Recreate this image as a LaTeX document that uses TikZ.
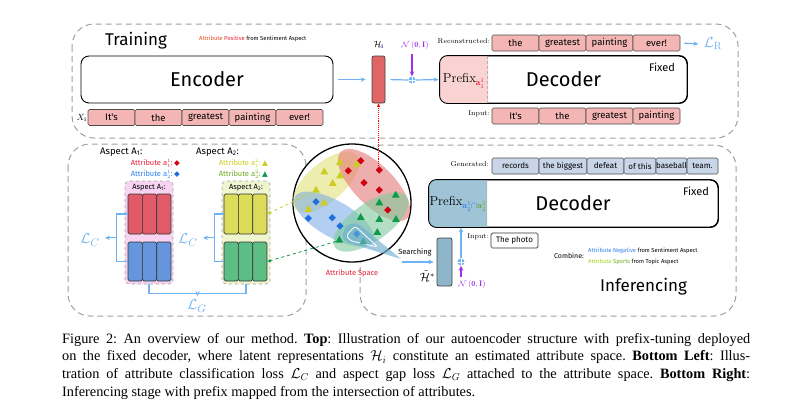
\documentclass[tikz,border=0pt]{standalone}
\usepackage{fontspec}
\usetikzlibrary{arrows.meta,calc,shapes.geometric}
\newfontfamily\cf{Fira Sans}
\newfontfamily\dv{DejaVu Sans}
\newfontfamily\capf{Liberation Serif}
\newcommand\myfs[1]{\fontsize{#1}{#1}\selectfont}
\definecolor{tokpink}{HTML}{F4B5B5}
\definecolor{hred}{HTML}{E06666}
\definecolor{prefpink}{HTML}{F9D2D2}
\definecolor{lblue}{HTML}{6FB3F2}
\definecolor{purp}{HTML}{9B30E6}
\definecolor{gtokc}{HTML}{C9D5E8}
\definecolor{prefblue}{HTML}{9EC4D6}
\definecolor{hstar}{HTML}{8EB6C8}
\definecolor{redbar}{HTML}{E05A6A}
\definecolor{bluebar}{HTML}{6495DD}
\definecolor{yelbar}{HTML}{DCDC5A}
\definecolor{grnbar}{HTML}{5DBE85}
\definecolor{pinkbg}{HTML}{F9D4F2}
\definecolor{yelbg}{HTML}{EFF6CF}
\definecolor{attrred}{HTML}{E8203A}
\definecolor{attrorange}{HTML}{E84A20}
\definecolor{attrblue}{HTML}{2F80EE}
\definecolor{attryel}{HTML}{CCCC1E}
\definecolor{attrgrn}{HTML}{6DAA1E}
\definecolor{dred}{HTML}{D00010}
\definecolor{dblue}{HTML}{1E70DD}
\definecolor{dyel}{HTML}{CCCC22}
\definecolor{dgrn}{HTML}{0E9A48}
\definecolor{ellY}{HTML}{E2E27A}
\definecolor{ellR}{HTML}{E57878}
\definecolor{ellB}{HTML}{7FAEE6}
\definecolor{ellG}{HTML}{7FCB9C}
\definecolor{conec}{HTML}{6FAFD0}
\newcommand\dmd[3]{\fill[#3] (#1,#2) +(0,-3.6) -- +(3.6,0) -- +(0,3.6) -- +(-3.6,0) -- cycle;}
\newcommand\trg[3]{\fill[#3] (#1,#2) +(0,-4.2) -- +(3.9,2.6) -- +(-3.9,2.6) -- cycle;}
\begin{document}
\begin{tikzpicture}[x=1pt,y=-1pt,
  bigbox/.style={draw=black, line width=0.9pt, rounded corners=8pt, fill=white, inner sep=0},
  tok/.style={draw=black!70, line width=0.6pt, fill=tokpink, rounded corners=1.5pt, minimum height=16pt, minimum width=47pt, inner sep=0, font=\cf\myfs{9.5}},
  gtok/.style={tok, fill=gtokc, font=\cf\myfs{8}},
  lab/.style={font=\myfs{7}, anchor=east, inner sep=0},
  bline/.style={draw=lblue, line width=1.2pt},
  barrow/.style={draw=lblue, line width=1.2pt, -{Stealth[length=5pt,width=4.5pt]}},
  parrow/.style={draw=purp, line width=1.2pt, -{Stealth[length=5pt,width=4.5pt]}},
  dashbox/.style={draw=gray!75, dash pattern=on 6pt off 4pt, line width=1pt, rounded corners=22pt},
  bar/.style={draw=black!80, line width=0.7pt, rounded corners=1.5pt, minimum width=14.3pt, inner sep=0},
  oplus/.style={circle, fill=lblue, minimum size=7pt, inner sep=0},
  lossl/.style={text=lblue, font=\myfs{15}},
  hbox/.style={draw=black!75, line width=0.7pt, rounded corners=2pt, inner sep=0},
]
\useasboundingbox (0,0) rectangle (808,413);

% ---------- dashed frames ----------
\draw[dashbox] (72,24) rectangle (738,138);
\draw[dashbox] (68,144) rectangle (306,316);
\draw[dashbox] (360,145) rectangle (736,316);

% ---------- TOP: training ----------
\node[font=\cf\myfs{17}] (train) at (136,41) {Training};
\node[anchor=west, inner sep=0, font=\cf\myfs{5.8}] (posl) at (199,39) {\textcolor{attrorange}{Attribute} \textcolor{attrred}{Positive} from Sentiment Aspect};

\node[bigbox, minimum width=252pt, minimum height=47pt, font=\cf\myfs{20}] (enc) at (207,79.5) {Encoder};
\node[tok] (x1) at (111.5,117.5) {It's};
\node[tok] (x2) at (158.5,117.5) {the};
\node[tok] (x3) at (205.5,117.5) {greatest};
\node[tok] (x4) at (252.5,117.5) {painting};
\node[tok] (x5) at (299.5,117.5) {ever!};
\node[anchor=east, inner sep=1pt, font=\myfs{9}] (xl) at (x1.west) {$X_{\mathbf i}$};

\node[hbox, fill=hred, minimum width=13pt, minimum height=47pt] (h1) at (378.5,79.5) {};
\node[font=\myfs{9}] (h1l) at (378.5,45) {$\mathcal{H}_{\textcolor{blue!60!black}{\mathbf i}}$};
\draw[barrow, shorten <=5pt, shorten >=6pt] (enc.east) -- (h1.west);

\node[oplus] (op1) at (412,80) {};
\draw[white, line width=0.6pt] (op1.north) -- (op1.south) (op1.west) -- (op1.east);
\draw[bline, shorten <=5pt] (h1.east) -- (op1.west);
\node[text=purp, font=\myfs{8}] (n1) at (415,45) {$\mathcal{N}\,(\mathbf{0},\mathbf{I})$};
\coordinate (n1a) at (412,54);
\draw[parrow] (n1a) -- (op1.north);

\node[bigbox, minimum width=247pt, minimum height=47pt] (dec1) at (563.5,79.5) {};
\draw[barrow, shorten >=1pt] (op1.east) -- (dec1.west);
\begin{scope}
  \clip (430,50) rectangle (488,110);
  \fill[prefpink, rounded corners=8pt] (dec1.north west) rectangle (dec1.south east);
\end{scope}
\draw[gray!60, densely dashed, line width=0.6pt] ($(dec1.north west)+(48,0)$) -- ($(dec1.south west)+(48,0)$);
\draw[line width=0.9pt, rounded corners=8pt] (dec1.north west) rectangle (dec1.south east);
\node[font=\cf\myfs{20}] (dec1t) at (dec1.center) {Decoder};
\node[font=\myfs{13}, inner sep=0] (pf1) at (464,81) {Prefix$_{\textcolor{attrred}{\mathbf{a}^1_1}}$};
\node[font=\cf\myfs{11}] (fx1) at (662,67) {Fixed};

\node[tok] (r1) at (515.5,43) {the};
\node[tok] (r2) at (562.5,43) {greatest};
\node[tok] (r3) at (609.5,43) {painting};
\node[tok] (r4) at (656.5,43) {ever!};
\node[lab] (recl) at (490,41) {Reconstructed:};
\node[lossl] (lr) at (713,44) {$\mathcal{L}_{\mathrm R}$};
\draw[barrow, shorten <=4pt, shorten >=2pt] (r4.east) -- (lr.west);

\node[tok] (i1) at (515.5,116) {It's};
\node[tok] (i2) at (562.5,116) {the};
\node[tok] (i3) at (609.5,116) {greatest};
\node[tok] (i4) at (656.5,116) {painting};
\node[lab] (inl) at (490,113.5) {Input:};

% ---------- BOTTOM LEFT ----------
\node[anchor=west, inner sep=0, font=\cf\myfs{9.5}] (asp1) at (100,152) {Aspect A\textsubscript{1}:};
\node[anchor=east, inner sep=0, font=\cf\myfs{7.5}, text=attrred] (a11) at (180,163) {Attribute a$^1_1$:\,\textcolor{dred}{\dv ◆}};
\node[anchor=east, inner sep=0, font=\cf\myfs{7.5}, text=attrblue] (a21) at (180,174) {Attribute a$^1_2$:\,\textcolor{dblue}{\dv ◆}};
\node[anchor=west, inner sep=0, font=\cf\myfs{9.5}] (asp2) at (196,152) {Aspect A\textsubscript{2}:};
\node[anchor=east, inner sep=0, font=\cf\myfs{7.5}, text=attryel] (a12) at (268,163) {Attribute a$^2_1$:\,\textcolor{dyel}{\dv ▲}};
\node[anchor=east, inner sep=0, font=\cf\myfs{7.5}, text=attrgrn] (a22) at (268,174) {Attribute a$^2_2$:\,\textcolor{dgrn}{\dv ▲}};

\node[draw=gray!70, dashed, line width=0.7pt, fill=pinkbg, rounded corners=4pt, minimum width=48pt, minimum height=103pt, inner sep=0] (pk) at (149,232.5) {};
\node[draw=gray!70, dashed, line width=0.7pt, fill=yelbg, rounded corners=4pt, minimum width=48pt, minimum height=103pt, inner sep=0] (yk) at (246,232.5) {};
\node[font=\cf\myfs{7.5}, inner sep=0] (pkl) at (149,187.5) {Aspect A\textsubscript{1}:};
\node[font=\cf\myfs{7.5}, inner sep=0] (ykl) at (246,187.5) {Aspect A\textsubscript{2}:};

\foreach \i/\x in {1/135.2,2/149.5,3/163.8}{
  \node[bar, fill=redbar, minimum height=40pt] (rb\i) at (\x,214) {};
  \node[bar, fill=bluebar, minimum height=39pt] (bb\i) at (\x,261.5) {};
}
\foreach \i/\x in {1/231.2,2/245.5,3/259.8}{
  \node[bar, fill=yelbar, minimum height=40pt] (yb\i) at (\x,214) {};
  \node[bar, fill=grnbar, minimum height=39pt] (gb\i) at (\x,261.5) {};
}

\node[lossl] (lc1) at (90,240) {$\mathcal{L}_C$};
\node[lossl] (lc2) at (188,240) {$\mathcal{L}_C$};
\node[lossl] (lg) at (197,306) {$\mathcal{L}_G$};
\draw[bline] (rb1.west) -- ++(-11.3,0) |- (bb1.west);
\coordinate (lcm1) at ($(rb1.west)!.5!(bb1.west)+(-11.3,0)$);
\draw[barrow, shorten >=2pt] (lcm1) -- (lcm1 -| lc1.east);
\draw[bline] (yb1.west) -- ++(-9,0) |- (gb1.west);
\coordinate (lcm2) at ($(yb1.west)!.5!(gb1.west)+(-9,0)$);
\draw[barrow, shorten >=2pt] (lcm2) -- (lcm2 -| lc2.east);
\draw[bline] (pk.south) -- ++(0,9) -| (yk.south);
\coordinate (lgm) at ($(pk.south)!.5!(yk.south)+(0,9)$);
\draw[barrow] (lgm) -- (lgm |- lg.north);

% ---------- attribute space ----------
\node[circle, draw=black, line width=1.3pt, fill=white, minimum size=118pt, inner sep=0] (sp) at (352,203) {};
\fill[ellY, fill opacity=.6, rotate around={41:(326,182)}] (326,182) ellipse (41pt and 19pt);
\fill[ellB, fill opacity=.6, rotate around={-30:(334,219)}] (334,219) ellipse (45pt and 18pt);
\fill[ellR, fill opacity=.6, rotate around={-45:(374,185)}] (374,185) ellipse (47pt and 20pt);
\fill[ellG, fill opacity=.6, rotate around={35:(371,222)}] (371,222) ellipse (44pt and 19pt);
\fill[conec, fill opacity=.65] (344,231) .. controls (347,223) and (355,221) .. (361,226) -- (401,259) -- (349,243) .. controls (343,241) and (341,236) .. (344,231) -- cycle;
\draw[white, line width=0.8pt, rounded corners=3pt] (346,236) -- (355,226) -- (378,247) -- (351,241) -- cycle;

\dmd{360.7}{160.7}{dred}\dmd{348.3}{170.7}{dred}\dmd{379.3}{170}{dred}
\dmd{364}{182.7}{dred}\dmd{379.3}{190}{dred}\dmd{387.7}{210}{dred}
\trg{340}{162.3}{dyel}\trg{324.3}{171.7}{dyel}\trg{340}{175.7}{dyel}\trg{332.7}{183.3}{dyel}
\trg{356.7}{164.3}{dyel}\trg{316}{190}{dyel}\trg{308.3}{209.3}{dyel}\trg{324}{202.7}{dyel}
\dmd{316}{201.7}{dblue}\dmd{308.3}{218.3}{dblue}\dmd{332.3}{217.7}{dblue}\dmd{340}{226}{dblue}
\dmd{356.7}{234}{dblue!45!conec}
\trg{395.7}{195}{dgrn}\trg{379.3}{202.7}{dgrn}\trg{360.7}{217.3}{dgrn}\trg{379.3}{219.3}{dgrn}
\trg{396}{219.3}{dgrn}\trg{377.3}{232.3}{dgrn}\trg{339.3}{240}{dgrn}\trg{363.3}{241.7}{dgrn!40!conec}

\coordinate (ytri) at (315,191);
\coordinate (gtri) at (336,241.5);
\draw[dyel, dashed, line width=0.8pt, -{Stealth[length=4pt,width=3.5pt]}] (ytri) -- (yb3.east);
\draw[dgrn, dashed, line width=0.8pt, -{Stealth[length=4pt,width=3.5pt]}] (gtri) -- (gb3.east);
\coordinate (rdia) at (378.5,166);
\draw[red, densely dotted, line width=0.9pt, -{Stealth[length=4pt,width=3.5pt]}] (rdia) -- (h1.south);
\node[text=attrred, font=\cf\myfs{7.5}] (asl) at (352,273) {Attribute Space};

% ---------- BOTTOM RIGHT: inferencing ----------
\node[lab] (genl) at (489,164) {Generated:};
\node[gtok, minimum width=47pt] (g1) at (515.5,166) {records};
\node[gtok, minimum width=48pt] (g2) at (563,166) {the biggest};
\node[gtok, minimum width=37pt] (g3) at (605.5,166) {defeat};
\node[gtok, minimum width=32pt] (g4) at (640,166) {of this};
\node[gtok, minimum width=31pt] (g5) at (671.5,166) {baseball};
\node[gtok, minimum width=31pt] (g6) at (702.5,166) {team.};

\node[bigbox, minimum width=289pt, minimum height=47pt] (dec2) at (573.5,203.5) {};
\begin{scope}
  \clip (420,170) rectangle (487,240);
  \fill[prefblue, rounded corners=8pt] (dec2.north west) rectangle (dec2.south east);
\end{scope}
\draw[gray!60, densely dashed, line width=0.6pt] ($(dec2.north west)+(58,0)$) -- ($(dec2.south west)+(58,0)$);
\draw[line width=0.9pt, rounded corners=8pt] (dec2.north west) rectangle (dec2.south east);
\node[font=\cf\myfs{20}] (dec2t) at (573,203.5) {Decoder};
\node[font=\myfs{13}, inner sep=0] (pf2) at (458,204) {Prefix$_{\textcolor{attrblue}{\mathbf{a}^1_2\cap}\textcolor{attrgrn}{\mathbf{a}^2_2}}$};
\node[font=\cf\myfs{11}] (fx2) at (696,191) {Fixed};

\node[hbox, fill=hstar, minimum width=15pt, minimum height=48pt] (hs) at (444.5,262) {};
\node[font=\myfs{12}, anchor=east, inner sep=0] (hsl) at (435,276) {$\tilde{\mathcal{H}}^*$};
\node[font=\cf\myfs{7.5}] (srch) at (415,252) {Searching};
\coordinate (ctip) at (402,262);
\draw[barrow, shorten >=3pt] (ctip) -- (hs.west);

\node[oplus] (op2) at (461,262) {};
\draw[white, line width=0.6pt] (op2.north) -- (op2.south) (op2.west) -- (op2.east);
\draw[barrow] (op2.north) -- (op2 |- dec2.south);
\node[text=purp, font=\myfs{8}] (n2) at (472,284) {$\mathcal{N}\,(\mathbf{0},\mathbf{I})$};
\coordinate (n2a) at (461,277);
\draw[parrow] (n2a) -- (op2.south);

\node[lab] (inl2) at (489,237) {Input:};
\node[draw=black!80, line width=0.7pt, fill=white, rounded corners=1.5pt, minimum width=47pt, minimum height=15pt, inner sep=0, font=\cf\myfs{8}] (tp) at (514.5,240.5) {The photo};

\node[font=\cf\myfs{7}, inner sep=0] (comb) at (569,256) {Combine:};
\node[anchor=west, inner sep=0, font=\cf\myfs{5.8}] (cb1) at (588,251) {\textcolor{attrblue}{Attribute Negative} from Sentiment Aspect};
\node[anchor=west, inner sep=0, font=\cf\myfs{5.8}] (cb2) at (588,262) {\textcolor{attryel!80!green}{Attribute} \textcolor{attrgrn}{Sports} from Topic Aspect};
\node[font=\cf\myfs{17}] (inf) at (643.5,287) {Inferencing};

% ---------- caption ----------
\node[anchor=north west, inner sep=0, text width=688pt, align=justify, font=\capf\fontsize{14.3}{17.6}\selectfont\frenchspacing] (cap) at (62,333) {Figure 2: An overview of our method. \textbf{Top}: Illustration of our autoencoder structure with prefix-tuning deployed\linebreak on the fixed decoder, where latent representations $\mathcal{H}_i$ constitute an estimated attribute space. \textbf{Bottom Left}: Illus-\linebreak tration of attribute classification loss $\mathcal{L}_C$ and aspect gap loss $\mathcal{L}_G$ attached to the attribute space. \textbf{Bottom Right}:\linebreak Inferencing stage with prefix mapped from the intersection of attributes.};
\end{tikzpicture}
\end{document}
